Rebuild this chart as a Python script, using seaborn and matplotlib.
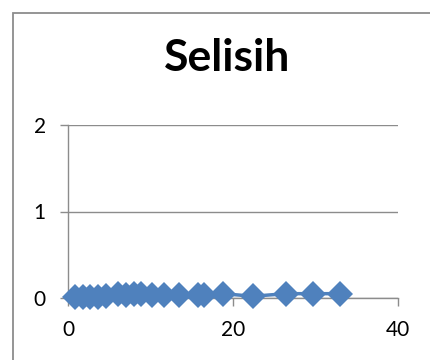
import matplotlib
matplotlib.use('Agg')
import matplotlib.pyplot as plt
import matplotlib.patches as patches
import seaborn as sns

# Values
x_vals = [0.8, 1.8, 2.7, 3.6, 4.6, 6.1, 7.0, 8.0, 8.8, 10.2, 11.6, 13.4, 15.7, 16.5, 18.8, 22.4, 26.4, 29.7, 33.0]
selisih = [0.01, 0.01, 0.01, 0.01, 0.02, 0.05, 0.04, 0.05, 0.05, 0.03, 0.03, 0.04, 0.03, 0.03, 0.05, 0.02, 0.05, 0.05, 0.05]
x_ticks = [0, 20, 40]
y_ticks = [0, 1, 2]

sns.set_style('white')
plt.rcParams['font.family'] = ['Lato', 'DejaVu Sans']

fig = plt.figure(figsize=(4.3, 3.6), dpi=100)
ax = fig.add_axes([68 / 430, 1 - 298 / 360, 330 / 430, 173 / 360])

# Outer chart border (cut off on the right and bottom like the source)
fig.patches.append(patches.Rectangle((13 / 430, -0.1), 1.0, 1 - 13 / 360 + 0.1,
                                     transform=fig.transFigure, fill=False,
                                     edgecolor='#8c8c8c', linewidth=1.3))

sns.lineplot(x=x_vals, y=selisih, ax=ax, color='#4F81BD', marker='D',
             markersize=13, markeredgewidth=0, linewidth=2.5, sort=False,
             clip_on=False, zorder=5)

ax.set_xlim(0, 40)
ax.set_ylim(0, 2)
ax.set_xticks(x_ticks)
ax.set_yticks(y_ticks)
ax.yaxis.grid(True, color='#8c8c8c', linewidth=1)
ax.set_axisbelow(True)
for side in ['top', 'right']:
    ax.spines[side].set_visible(False)
for side in ['left', 'bottom']:
    ax.spines[side].set_color('#8c8c8c')
    ax.spines[side].set_linewidth(1)
ax.tick_params(axis='both', direction='out', length=6, width=1, color='#8c8c8c',
               labelsize=15, labelcolor='black', pad=10, left=True, bottom=True)

fig.text(0.528, 1 - 58 / 360, 'Selisih', ha='center', va='center',
         fontsize=32, fontweight='bold', color='black')

fig.savefig('out.png', dpi=100)
